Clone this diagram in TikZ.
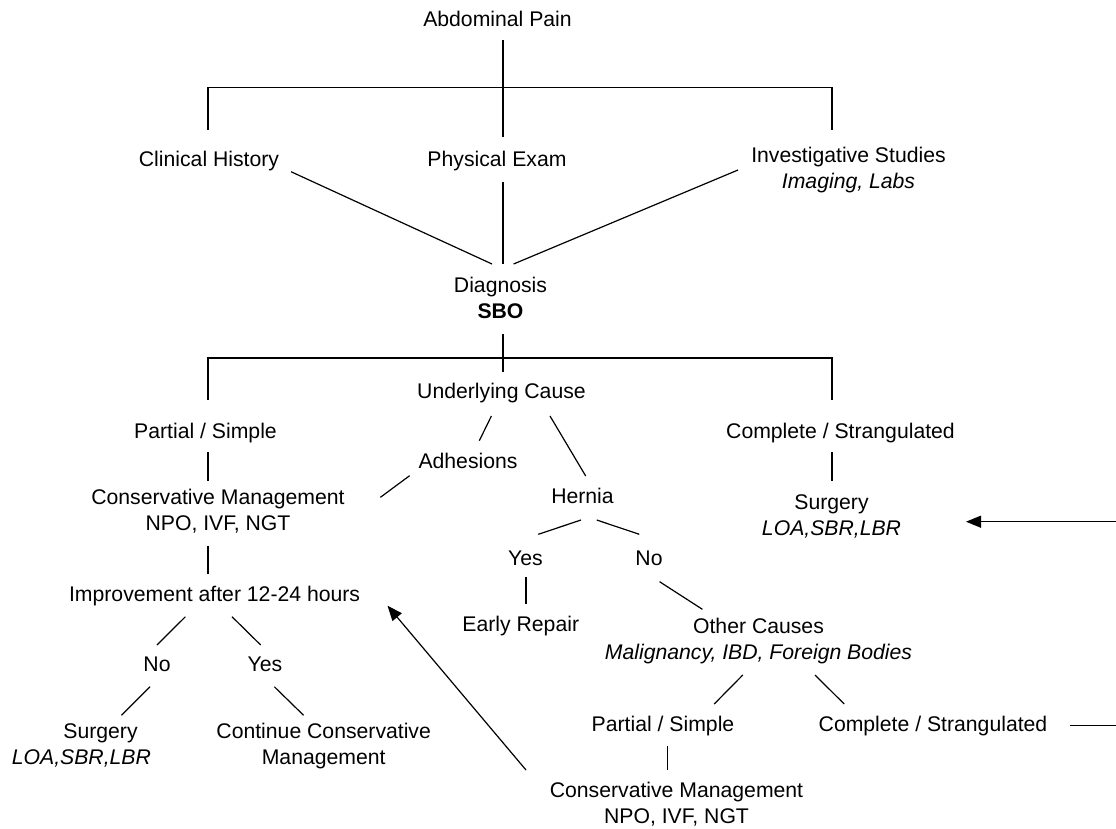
\documentclass[tikz,border=0pt]{standalone}
\usepackage{fontspec}
\setmainfont{Liberation Sans}
\usetikzlibrary{arrows.meta}
\begin{document}
\begin{tikzpicture}[x=1pt,y=-1pt,
  lbl/.style={anchor=base,inner sep=0pt,align=center,font=\fontsize{21.2pt}{25.7pt}\selectfont},
  conn/.style={line width=1.2pt},
  arr/.style={line width=1.2pt,-{Triangle[length=15pt,width=12pt]}}]
\useasboundingbox (0,0) rectangle (1116,828);
\fill[white] (0,0) rectangle (1116,828);
% nodes (multi-line nodes are placed at the baseline of their last line)
\node[lbl] (ap) at (497.5,26) {Abdominal Pain};
\node[lbl] (ch) at (209,166.7) {Clinical History};
\node[lbl] (pe) at (497,166.7) {Physical Exam};
\node[lbl] (is) at (848.5,188.4) {Investigative Studies\\\textit{Imaging, Labs}};
\node[lbl] (dx) at (500.5,318) {Diagnosis\\\textbf{SBO}};
\node[lbl] (uc) at (501.5,398.3) {Underlying Cause};
\node[lbl] (ps1) at (205.5,438.3) {Partial / Simple};
\node[lbl] (cs1) at (840.5,438.3) {Complete / Strangulated};
\node[lbl] (ad) at (468,468.3) {Adhesions};
\node[lbl] (he) at (582.5,503.3) {Hernia};
\node[lbl] (cm1) at (218,530) {Conservative Management\\NPO, IVF, NGT};
\node[lbl] (su1) at (831.5,535) {Surgery\\\textit{LOA,SBR,LBR}};
\node[lbl] (hy) at (525.5,565) {Yes};
\node[lbl] (hn) at (649,565) {No};
\node[lbl] (im) at (214.6,601.7) {Improvement after 12-24 hours};
\node[lbl] (er) at (520.8,631.7) {Early Repair};
\node[lbl] (oc) at (758.5,659.3) {Other Causes\\\textit{Malignancy, IBD, Foreign Bodies}};
\node[lbl] (in) at (157,671.7) {No};
\node[lbl] (iy) at (265,671.7) {Yes};
\node[lbl] (ps2) at (663,731.7) {Partial / Simple};
\node[lbl] (cs2) at (933,731.7) {Complete / Strangulated};
\node[lbl] (su2) at (100.5,764) {Surgery\\\textit{LOA,SBR,LBR}\rule{38.2pt}{0pt}};
\node[lbl] (cc) at (323.7,764) {Continue Conservative\\Management};
\node[lbl] (cm2) at (676.5,823.3) {Conservative Management\\NPO, IVF, NGT};
% connectors
\draw[conn] ([shift={(5.5,14)}]ap.base) -- ([shift={(6,-29.7)}]pe.base);
\draw[conn] ([shift={(-1,-36.7)}]ch.base) |- ([shift={(-16.5,-100.7)}]is.base) -- ([shift={(-16.5,-58.4)}]is.base);
\draw[conn] ([shift={(82,5)}]ch.base) -- ([shift={(-8.5,-54)}]dx.base);
\draw[conn] ([shift={(6,15)}]pe.base) -- ([shift={(2.5,-54)}]dx.base);
\draw[conn] ([shift={(-110.5,-18.4)}]is.base) -- ([shift={(13.1,-54)}]dx.base);
\draw[conn] ([shift={(2.5,16.3)}]dx.base) -- ([shift={(1.5,-26)}]uc.base);
\draw[conn] ([shift={(2.5,-38.3)}]ps1.base) |- ([shift={(-8.5,-80.3)}]cs1.base) -- ([shift={(-8.5,-38.3)}]cs1.base);
\draw[conn] ([shift={(2.5,14)}]ps1.base) -- ([shift={(-10,-49.3)}]cm1.base);
\draw[conn] ([shift={(-10,15.7)}]cm1.base) -- ([shift={(-6.6,-27.7)}]im.base);
\draw[conn] ([shift={(-10.1,17.7)}]uc.base) -- ([shift={(11.3,-27.6)}]ad.base);
\draw[conn] ([shift={(48.5,17.7)}]uc.base) -- ([shift={(3.2,-27.3)}]he.base);
\draw[conn] ([shift={(-58.4,7.4)}]ad.base) -- ([shift={(162.4,-32.7)}]cm1.base);
\draw[conn] ([shift={(-8.5,14)}]cs1.base) -- ([shift={(0.5,-54.3)}]su1.base);
\draw[conn] ([shift={(-1.5,16.7)}]he.base) -- ([shift={(12.8,-30.7)}]hy.base);
\draw[conn] ([shift={(14.2,16.7)}]he.base) -- ([shift={(-9.7,-30.7)}]hn.base);
\draw[conn] ([shift={(0.5,11.7)}]hy.base) -- ([shift={(5.2,-27.4)}]er.base);
\draw[conn] ([shift={(10.6,16.7)}]hn.base) -- ([shift={(-56.1,-50)}]oc.base);
\draw[conn] ([shift={(-29.2,15)}]im.base) -- ([shift={(0,-26.7)}]in.base);
\draw[conn] ([shift={(17.4,15)}]im.base) -- ([shift={(-4.3,-26.7)}]iy.base);
\draw[conn] ([shift={(-7,15)}]in.base) -- ([shift={(20.9,-48.7)}]su2.base);
\draw[conn] ([shift={(9.3,15)}]iy.base) -- ([shift={(-20.1,-48.7)}]cc.base);
\draw[conn] ([shift={(-15.7,15.7)}]oc.base) -- ([shift={(51.2,-27.7)}]ps2.base);
\draw[conn] ([shift={(56.5,15.7)}]oc.base) -- ([shift={(-88.8,-27.7)}]cs2.base);
\draw[conn] ([shift={(4.8,14)}]ps2.base) -- ([shift={(-8.7,-53.3)}]cm2.base);
\draw[arr] ([shift={(-150.5,-53.3)}]cm2.base) -- ([shift={(172.9,4)}]im.base);
\coordinate (r1) at (1122,725.7);
\coordinate (r2) at (1122,521.7);
\draw[arr] ([shift={(136.6,-6)}]cs2.base) -- (r1) -- (r2) -- ([shift={(134.5,-13.3)}]su1.base);
\end{tikzpicture}
\end{document}
